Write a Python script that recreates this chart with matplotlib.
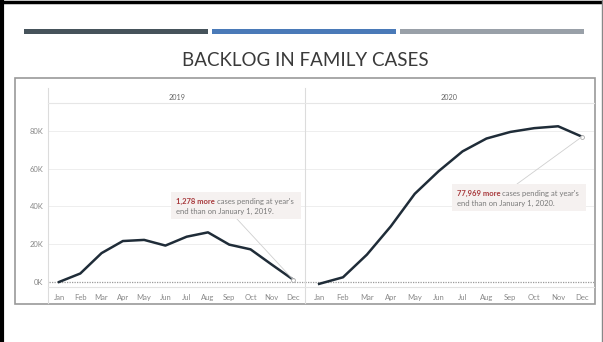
import matplotlib.pyplot as plt
from matplotlib.patches import Rectangle, ConnectionPatch
from matplotlib.lines import Line2D
from matplotlib.text import Annotation

plt.rcParams['font.family'] = ['Lato', 'DejaVu Sans']

# backlog change since January 1, by month
months = ['Jan', 'Feb', 'Mar', 'Apr', 'May', 'Jun', 'Jul', 'Aug', 'Sep', 'Oct', 'Nov', 'Dec']
backlog_2019 = [0, 4500, 15300, 21700, 22300, 19300, 24000, 26300, 19800, 17300, 9200, 1278]
backlog_2020 = [-1000, 2500, 14500, 29500, 46700, 58700, 69200, 76000, 79500, 81500, 82500, 76969]
yticks = [0, 20000, 40000, 60000, 80000]
ylabels = ['0K', '20K', '40K', '60K', '80K']

W, H = 603, 342
fig = plt.figure(figsize=(W / 100, H / 100), dpi=100)
fig.patch.set_facecolor('white')


def fx(x):
    return x / W


def fy(y):
    return 1 - y / H


def hline(x0, x1, y, **kw):
    fig.add_artist(Line2D([fx(x0), fx(x1)], [fy(y), fy(y)], transform=fig.transFigure, **kw))


def vline(x, y0, y1, **kw):
    fig.add_artist(Line2D([fx(x), fx(x)], [fy(y0), fy(y1)], transform=fig.transFigure, **kw))


# slide edges
vline(1.5, 0, H, color='black', lw=3)
hline(0, W, 1.5, color='black', lw=2.5)
vline(601.5, 0, H, color='#888888', lw=1)

# accent bars and slide title
for x0, x1, c in [(24, 208, '#46535b'), (212, 396, '#4a7ab8'), (400, 584, '#99a0a8')]:
    fig.add_artist(Rectangle((fx(x0), fy(34)), (x1 - x0) / W, 5 / H,
                             transform=fig.transFigure, color=c, lw=0))
fig.text(fx(305), fy(60), 'BACKLOG IN FAMILY CASES', ha='center', va='center',
         fontsize=13.5, color='#3a3a3a')

# chart frame
fig.add_artist(Rectangle((fx(15), fy(304)), 580 / W, 226 / H, transform=fig.transFigure,
                         fill=False, edgecolor='#9a9a9a', lw=1.2))

# pane rules
vline(48, 88, 303, color='#dcdcdc', lw=0.8)
vline(305, 88, 303, color='#dcdcdc', lw=0.8)
hline(48, 594, 103, color='#e6e6e6', lw=0.8)
hline(48, 594, 287, color='#e3e3e3', lw=0.8)
fig.text(fx(177), fy(97), '2019', ha='center', va='center', fontsize=5.2, color='#666666')
fig.text(fx(449), fy(97), '2020', ha='center', va='center', fontsize=5.2, color='#666666')

ylim = (-2650, 94830)
ax1 = fig.add_axes([fx(49), fy(287), 256 / W, 184 / H])
ax2 = fig.add_axes([fx(305), fy(287), 289 / W, 184 / H])
x = list(range(1, 13))

for ax, vals, xlim in [(ax1, backlog_2019, (0.53, 12.56)), (ax2, backlog_2020, (0.41, 12.5))]:
    ax.set_xlim(*xlim)
    ax.set_ylim(*ylim)
    for s in ax.spines.values():
        s.set_visible(False)
    ax.set_facecolor('none')
    for t in yticks[1:]:
        ax.axhline(t, color='#eeeeee', lw=0.7, zorder=0)
    ax.axhline(0, color='#9a9a9a', lw=0.9, ls=(0, (1, 1)), zorder=1)
    ax.plot(x, vals, color='#1f2c38', lw=1.8, zorder=3)
    ax.plot(12, vals[-1], 'o', ms=2.8, mfc='white', mec='#aaaaaa', mew=0.6, zorder=4)
    ax.set_xticks(x)
    ax.set_xticklabels(months)
    ax.tick_params(axis='x', length=0, pad=5, labelsize=5.5, labelcolor='#888888')
    ax.set_yticks(yticks)
    ax.set_yticklabels(ylabels if ax is ax1 else [])
    ax.tick_params(axis='y', length=0, pad=4, labelsize=5.5, labelcolor='#888888')


def note(x0, y0, x1, y1, tx, ty, amount, year, ax, point):
    fig.add_artist(Rectangle((fx(x0), fy(y1)), (x1 - x0) / W, (y1 - y0) / H,
                             transform=fig.transFigure, color='#f5f1f0', lw=0, zorder=5))
    t1 = fig.text(fx(tx), fy(ty), f'{amount:,} more', fontsize=5.5, fontweight='bold',
                  color='#a8393c', va='baseline', zorder=6)
    fig.add_artist(Annotation(" cases pending at year's", xy=(1, 0), xycoords=t1,
                              va='bottom', fontsize=5.5, color='#7a7a7a', zorder=6))
    fig.text(fx(tx), fy(ty + 9.5), f'end than on January 1, {year}.', fontsize=5.5,
             color='#7a7a7a', va='baseline', zorder=6)
    con = ConnectionPatch(xyA=point[0], coordsA=fig.transFigure, xyB=point[1],
                          coordsB=ax.transData, color='#cfcfcf', lw=0.6, zorder=2)
    fig.add_artist(con)


note(171, 192, 301, 219, 176, 204, backlog_2019[-1] - backlog_2019[0], 2019, ax1,
     ((fx(237), fy(219)), (12, backlog_2019[-1])))
note(452, 184, 586, 211, 457, 196, backlog_2020[-1] - backlog_2020[0], 2020, ax2,
     ((fx(517), fy(184)), (12, backlog_2020[-1])))

fig.savefig('out.png', dpi=100, facecolor='white')
